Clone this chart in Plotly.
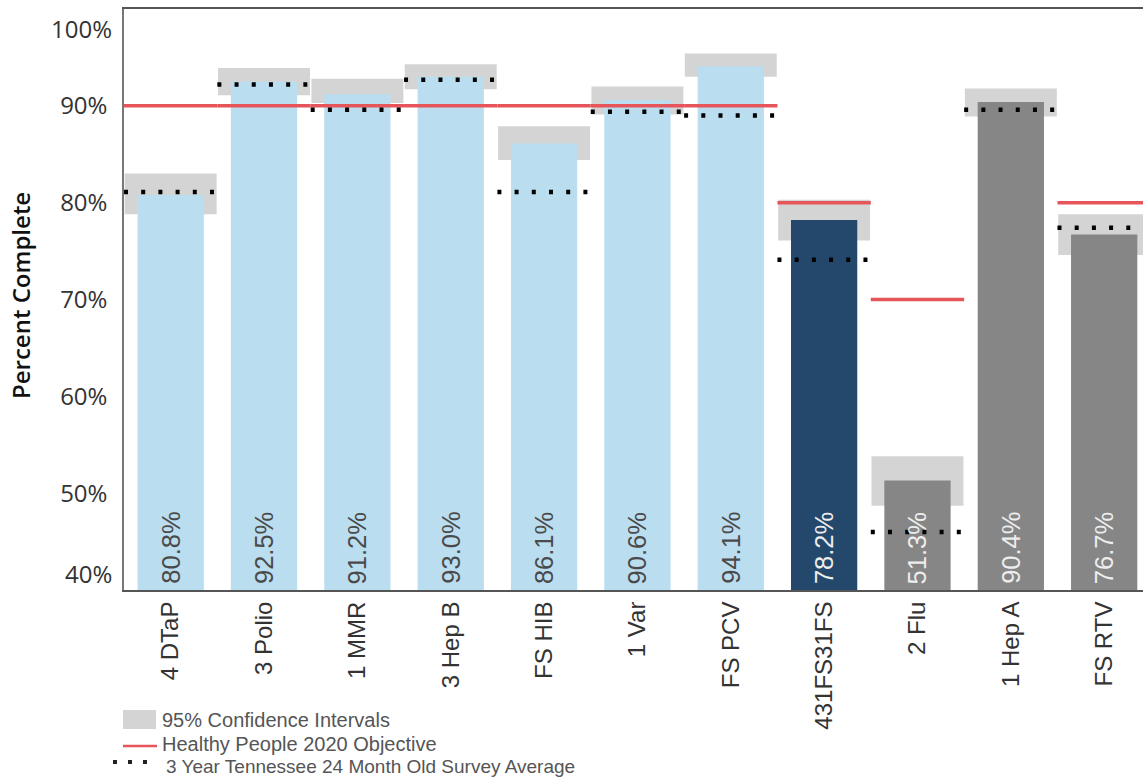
import plotly.graph_objects as go

categories = ["4 DTaP", "3 Polio", "1 MMR", "3 Hep B", "FS HIB", "1 Var", "FS PCV",
              "431FS31FS", "2 Flu", "1 Hep A", "FS RTV"]
values = [80.8, 92.5, 91.2, 93.0, 86.1, 90.6, 94.1, 78.2, 51.3, 90.4, 76.7]
ci_low = [78.8, 91.1, 90.3, 91.7, 84.4, 89.1, 93.0, 76.1, 48.7, 88.9, 74.6]
ci_high = [83.0, 93.9, 92.8, 94.3, 87.9, 92.0, 95.4, 80.3, 53.8, 91.8, 78.8]
survey_avg = [81.1, 92.2, 89.6, 92.7, 81.1, 89.4, 89.0, 74.1, 46.0, 89.6, 77.4]
objective = [90, 90, 90, 90, 90, 90, 90, 80, 70, None, 80]
groups = ["light"] * 7 + ["dark", "gray", "gray", "gray"]
y_ticks = [40, 50, 60, 70, 80, 90, 100]

group_color = {"light": "#BADDF0", "dark": "#23486B", "gray": "#868686"}
label_color = {"light": "#4a4a4a", "dark": "#EDEDED", "gray": "#EDEDED"}

W, H = 1143, 779
ML, MR, MT, MB = 124, 0, 9, 189
PW, PH = W - ML - MR, H - MT - MB
cat_px = 93.35
x_range = [-0.5, -0.5 + PW / cat_px]
y_range = [40, 100]

def px_x(px):
    return (px - ML) / PW

def px_y(py):
    return (H - MB - py) / PH

idx = list(range(len(categories)))
fig = go.Figure()

# confidence interval boxes
fig.add_trace(go.Bar(
    x=idx, y=[h - l for l, h in zip(ci_low, ci_high)], base=ci_low,
    width=0.985, marker=dict(color="#D4D4D4", line=dict(width=0)),
    showlegend=False, hoverinfo="skip"))

# value bars
fig.add_trace(go.Bar(
    x=idx, y=[v - y_range[0] for v in values], base=y_range[0],
    width=0.71, marker=dict(color=[group_color[g] for g in groups], line=dict(width=0)),
    showlegend=False, customdata=values,
    hovertemplate="%{customdata:.1f}%<extra></extra>"))

# Healthy People 2020 objective
for i, o in zip(idx, objective):
    if o is None:
        continue
    fig.add_trace(go.Scatter(
        x=[i - 0.5, i + 0.5], y=[o, o], mode="lines",
        line=dict(color="#E5555A", width=3.5),
        showlegend=False, hoverinfo="skip"))

# 3-year survey average
for i, s in zip(idx, survey_avg):
    fig.add_trace(go.Scatter(
        x=[i - 0.5, i + 0.49], y=[s, s], mode="lines",
        line=dict(color="#000000", width=4.5, dash="4px,13.2px"),
        showlegend=False, hoverinfo="skip"))

annotations = []
# bar value labels
for i, v, g in zip(idx, values, groups):
    annotations.append(dict(
        x=i, y=y_range[0], xref="x", yref="y", text=f"{v:.1f}%",
        textangle=-90, showarrow=False, xanchor="center", yanchor="bottom",
        yshift=4, font=dict(family="Liberation Sans, Arial", size=25.5, color=label_color[g])))

# y edge tick labels (shifted inside like the original)
annotations.append(dict(x=0, y=y_range[1], xref="paper", yref="y", text="100%",
                        showarrow=False, xanchor="right", yanchor="middle",
                        xshift=-10, yshift=-19,
                        font=dict(family="Open Sans", size=24, color="#333")))
annotations.append(dict(x=0, y=y_range[0], xref="paper", yref="y", text="40%",
                        showarrow=False, xanchor="right", yanchor="middle",
                        xshift=-10, yshift=17,
                        font=dict(family="Open Sans", size=24, color="#333")))

# y axis title
annotations.append(dict(x=px_x(20), y=px_y(296), xref="paper", yref="paper",
                        text="Percent Complete", textangle=-90, showarrow=False,
                        xanchor="center", yanchor="middle",
                        font=dict(family="Open Sans", size=24, color="#111", weight=600)))

# legend
legend_font = dict(family="Liberation Sans, Arial", size=20, color="#555")
annotations += [
    dict(x=px_x(160), y=px_y(720), xref="paper", yref="paper", text="95% Confidence Intervals",
         showarrow=False, xanchor="left", yanchor="middle", font=legend_font),
    dict(x=px_x(160), y=px_y(744), xref="paper", yref="paper", text="Healthy People 2020 Objective",
         showarrow=False, xanchor="left", yanchor="middle", font=legend_font),
    dict(x=px_x(164), y=px_y(766), xref="paper", yref="paper",
         text="3 Year Tennessee 24 Month Old Survey Average",
         showarrow=False, xanchor="left", yanchor="middle",
         font=dict(family="Liberation Sans, Arial", size=19, color="#555")),
]
shapes = [
    dict(type="rect", xref="paper", yref="paper", x0=px_x(123), x1=px_x(156),
         y0=px_y(729), y1=px_y(710), fillcolor="#D4D4D4", line=dict(width=0)),
    dict(type="line", xref="paper", yref="paper", x0=px_x(123), x1=px_x(157),
         y0=px_y(746), y1=px_y(746), line=dict(color="#E5555A", width=2.5)),
    dict(type="line", xref="paper", yref="paper", x0=px_x(113), x1=px_x(148),
         y0=px_y(762), y1=px_y(762), line=dict(color="#222", width=4, dash="4px,11px")),
]

fig.update_layout(
    width=W, height=H,
    margin=dict(l=ML, r=MR, t=MT, b=MB, pad=0),
    paper_bgcolor="white", plot_bgcolor="white",
    barmode="overlay", showlegend=False,
    annotations=annotations, shapes=shapes,
    xaxis=dict(range=x_range, tickmode="array", tickvals=idx, ticktext=categories,
               tickangle=-90, showgrid=False, zeroline=False,
               showline=True, linecolor="#555", linewidth=2, mirror=True,
               ticks="", ticklabelstandoff=0,
               tickfont=dict(family="Liberation Sans, Arial", size=24, color="#333")),
    yaxis=dict(range=y_range, tickmode="array", tickvals=y_ticks[1:-1],
               ticktext=[f"{t}%" for t in y_ticks[1:-1]],
               showgrid=False, zeroline=False,
               showline=True, linecolor="#777", linewidth=1.5, mirror=False,
               ticks="", ticklabelstandoff=10,
               tickfont=dict(family="Open Sans", size=24, color="#333")),
)

fig.write_html("out.html", config={"displayModeBar": False},
               post_script="document.body.style.margin='0';document.body.style.padding='0';")
